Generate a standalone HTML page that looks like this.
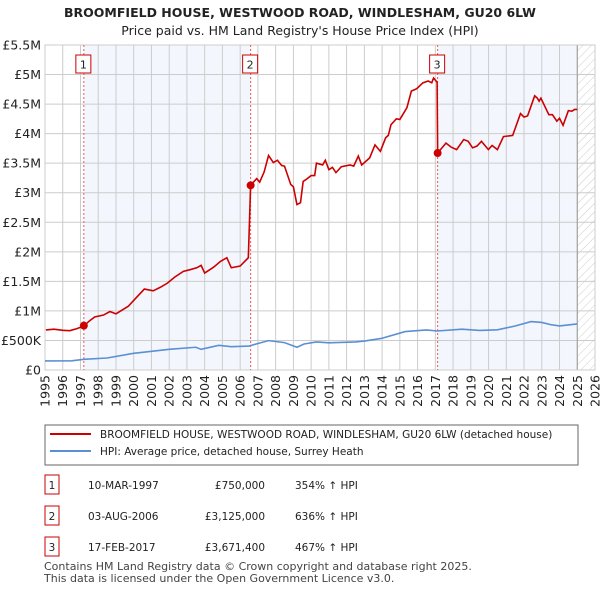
<!DOCTYPE html>
<html><head><meta charset="utf-8"><style>
body{margin:0;background:#fff;font-family:"Liberation Sans","DejaVu Sans",sans-serif;}
svg text{font-family:"DejaVu Sans","Liberation Sans",sans-serif;}
</style></head><body>
<svg id="c" width="600" height="590" viewBox="0 0 600 590" xmlns="http://www.w3.org/2000/svg">
<text x="300" y="17" text-anchor="middle" font-size="12.5" font-weight="bold" fill="#222">BROOMFIELD HOUSE, WESTWOOD ROAD, WINDLESHAM, GU20 6LW</text>
<text x="300" y="35" text-anchor="middle" font-size="12.5" fill="#222">Price paid vs. HM Land Registry's House Price Index (HPI)</text>
<g id="plot"></g>
<g>
<rect x="45" y="425" width="533" height="40" fill="#fff" stroke="#666" stroke-width="1"/>
<line x1="50" y1="434" x2="91" y2="434" stroke="#cc0000" stroke-width="2"/>
<text x="100" y="438" font-size="10.5" fill="#222">BROOMFIELD HOUSE, WESTWOOD ROAD, WINDLESHAM, GU20 6LW (detached house)</text>
<line x1="50" y1="451" x2="91" y2="451" stroke="#5b8fd4" stroke-width="2"/>
<text x="100" y="455" font-size="10.5" fill="#222">HPI: Average price, detached house, Surrey Heath</text>
</g>
<g id="tbl"></g>
<text x="44" y="570" font-size="11" fill="#444">Contains HM Land Registry data © Crown copyright and database right 2025.</text>
<text x="44" y="582" font-size="11" fill="#444">This data is licensed under the Open Government Licence v3.0.</text>
</svg>
<script>
const priceT=[1995.05,1995.5,1996.0,1996.4,1996.8,1997.19,1997.5,1997.8,1998.3,1998.66,1999.0,1999.3,1999.7,2000.07,2000.6,2001.1,2001.5,2001.9,2002.3,2002.8,2003.2,2003.55,2003.8,2004.0,2004.5,2004.9,2005.25,2005.5,2006.0,2006.46,2006.59,2006.93,2007.1,2007.35,2007.6,2007.87,2008.1,2008.34,2008.5,2008.85,2009.0,2009.2,2009.4,2009.55,2009.7,2010.0,2010.2,2010.3,2010.65,2010.8,2011.0,2011.2,2011.4,2011.7,2012.2,2012.4,2012.66,2012.85,2013.3,2013.6,2013.9,2014.2,2014.35,2014.5,2014.8,2015.0,2015.4,2015.65,2015.95,2016.3,2016.6,2016.8,2016.9,2017.1,2017.13,2017.6,2017.9,2018.2,2018.6,2018.85,2019.1,2019.35,2019.6,2019.99,2020.2,2020.5,2020.84,2021.36,2021.8,2022.0,2022.2,2022.6,2022.75,2022.85,2022.95,2023.4,2023.6,2023.85,2024.0,2024.2,2024.5,2024.7,2024.85,2025.0];
const priceV=[678,690,672,666,700,745,830,898,930,990,950,1005,1080,1200,1370,1340,1400,1470,1570,1670,1700,1730,1770,1640,1740,1840,1900,1730,1760,1900,3125,3240,3180,3350,3630,3510,3550,3460,3450,3140,3100,2800,2830,3190,3220,3290,3290,3500,3470,3550,3390,3430,3340,3440,3470,3450,3620,3470,3590,3810,3700,3930,3970,4150,4250,4240,4440,4720,4760,4860,4890,4860,4940,4870,3671,3840,3770,3730,3900,3870,3760,3790,3870,3730,3800,3730,3950,3970,4340,4280,4300,4640,4600,4550,4600,4320,4320,4210,4260,4140,4390,4380,4410,4410];
const hpiT=[1995.0,1996.5,1997.2,1998.5,2000.0,2000.7,2002.0,2003.5,2003.8,2004.8,2005.5,2006.5,2006.9,2007.6,2008.5,2009.2,2009.6,2010.3,2011.0,2012.5,2013.0,2014.0,2015.3,2016.5,2017.1,2018.5,2019.5,2020.5,2021.5,2022.4,2023.0,2023.5,2024.0,2025.0];
const hpiV=[153,155,181,203,283,305,350,385,350,418,395,405,440,497,463,385,440,475,460,475,490,537,650,678,660,690,670,680,745,820,805,768,745,780];
const saleT=[1997.19,2006.59,2017.13];
const saleV=[750,3125,3671.4];
const saleLabels=["1","2","3"];
const saleDates=["10-MAR-1997","03-AUG-2006","17-FEB-2017"];
const salePrices=["£750,000","£3,125,000","£3,671,400"];
const salePct=["354% ↑ HPI","636% ↑ HPI","467% ↑ HPI"];
const yTicks=[0,500,1000,1500,2000,2500,3000,3500,4000,4500,5000,5500];
const yTickLabels=["£0","£500K","£1M","£1.5M","£2M","£2.5M","£3M","£3.5M","£4M","£4.5M","£5M","£5.5M"];
const xYears=[1995,1996,1997,1998,1999,2000,2001,2002,2003,2004,2005,2006,2007,2008,2009,2010,2011,2012,2013,2014,2015,2016,2017,2018,2019,2020,2021,2022,2023,2024,2025,2026];

const L=45,R=595,T=45,B=370;
const X=t=>L+(t-1995)/(2026-1995)*(R-L);
const Y=v=>B-v/5500*(B-T);
const NS="http://www.w3.org/2000/svg";
const plot=document.getElementById('plot');
function mk(tag,attrs,parent){const e=document.createElementNS(NS,tag);for(const k in attrs)e.setAttribute(k,attrs[k]);(parent||plot).appendChild(e);return e;}
let s1=mk('rect',{x:X(saleT[0]),y:T,width:X(saleT[1])-X(saleT[0]),height:B-T,fill:'#eef3fc',opacity:0.7});


let s2=mk('rect',{x:X(saleT[2]),y:T,width:X(2025)-X(saleT[2]),height:B-T,fill:'#eef3fc',opacity:0.7});


const defs=mk('defs',{});
const pat=mk('pattern',{id:'h',width:6,height:6,patternUnits:'userSpaceOnUse',patternTransform:'rotate(45)'},defs);
mk('line',{x1:0,y1:0,x2:0,y2:6,stroke:'#ccc','stroke-width':1},pat);
let hz=mk('rect',{x:X(2025),y:T,width:R-X(2025),height:B-T,fill:'url(#h)'});


yTicks.forEach((v,i)=>{
 let g=mk('line',{x1:L,x2:R,y1:Y(v),y2:Y(v),stroke:'#cccccc','stroke-width':1});
 
 
 let t=mk('text',{x:L-4,y:Y(v)+4.5,'text-anchor':'end','font-size':12.5,fill:'#222'});
 t.textContent=yTickLabels[i];
 
 
});
xYears.forEach(yr=>{
 let g=mk('line',{x1:X(yr),x2:X(yr),y1:T,y2:B,stroke:'#cccccc','stroke-width':1});
 
 
 const tx=X(yr)+4.5,ty=B+5;
 let t=mk('text',{x:tx,y:ty,'text-anchor':'end','font-size':12.5,fill:'#222',transform:`rotate(-90 ${tx} ${ty})`});
 t.textContent=yr;
 
 
});
let fl=mk('line',{x1:X(2025),x2:X(2025),y1:T,y2:B,stroke:'#999','stroke-width':1});


let fr=mk('rect',{x:L,y:T,width:R-L,height:B-T,fill:'none',stroke:'#cccccc'});


saleT.forEach((t,i)=>{
 let v=mk('line',{x1:X(t),x2:X(t),y1:T,y2:B,stroke:'#ee5555','stroke-width':1,'stroke-dasharray':'2,2'});
 
 
});
let hp=mk('polyline',{points:hpiT.map((t,i)=>X(t)+','+Y(hpiV[i])).join(' '),fill:'none',stroke:'#5b8fd4','stroke-width':1.6});


let pp=mk('polyline',{points:priceT.map((t,i)=>X(t)+','+Y(priceV[i])).join(' '),fill:'none',stroke:'#cc0000','stroke-width':1.6});


saleT.forEach((t,i)=>{
 let c=mk('circle',{cx:X(t),cy:Y(saleV[i]),r:4,fill:'#cc0000'});
 
 
 let b=mk('rect',{x:X(t)-8,y:55,width:15,height:18,fill:'#fff',stroke:'#cc0000'});
 
 
 let tx=mk('text',{x:X(t)-0.5,y:68.5,'text-anchor':'middle','font-size':11,fill:'#222'});
 tx.textContent=saleLabels[i];
 
 
});
const tbl=document.getElementById('tbl');
const rowsY=[487,518,549];
saleLabels.forEach((l,i)=>{
 const y=rowsY[i];
 let b=mk('rect',{x:45,y:y-12,width:14,height:19,fill:'#fff',stroke:'#cc0000'},tbl);
 
 
 const cells=[[52,l,'middle'],[88,saleDates[i],'start'],[265,salePrices[i],'end'],[295,salePct[i],'start']];
 cells.forEach(c=>{
  let t=mk('text',{x:c[0],y:y+2,'text-anchor':c[2],'font-size':10.5,fill:'#222'},tbl);
  t.textContent=c[1];
  
  
 });
});
</script>
</body></html>
